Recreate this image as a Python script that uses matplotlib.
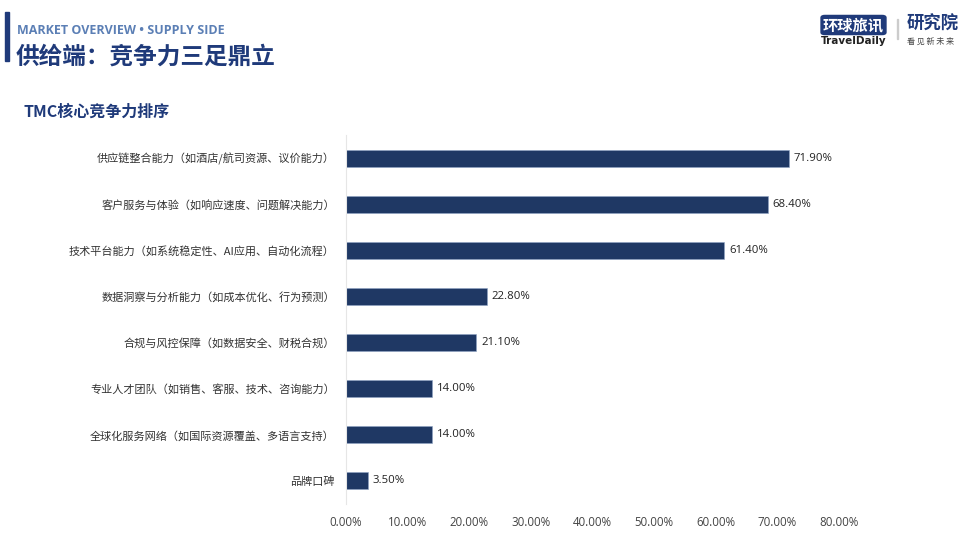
import matplotlib.pyplot as plt
from matplotlib.patches import FancyBboxPatch, Rectangle
from matplotlib.ticker import FuncFormatter

plt.rcParams["font.family"] = ["Noto Sans CJK SC", "DejaVu Sans"]

# data
categories = [
    "供应链整合能力（如酒店/航司资源、议价能力）",
    "客户服务与体验（如响应速度、问题解决能力）",
    "技术平台能力（如系统稳定性、AI应用、自动化流程）",
    "数据洞察与分析能力（如成本优化、行为预测）",
    "合规与风控保障（如数据安全、财税合规）",
    "专业人才团队（如销售、客服、技术、咨询能力）",
    "全球化服务网络（如国际资源覆盖、多语言支持）",
    "品牌口碑",
]
values = [71.9, 68.4, 61.4, 22.8, 21.1, 14.0, 14.0, 3.5]
xticks = [0, 10, 20, 30, 40, 50, 60, 70, 80]

navy = "#1f3864"
title_blue = "#1f3a7a"
sub_blue = "#5b7fb5"

fig = plt.figure(figsize=(9.6, 5.46), dpi=100)
fig.patch.set_facecolor("white")

# header
fig.add_artist(Rectangle((5 / 960, 1 - 61 / 546), 3.5 / 960, 49 / 546,
                         transform=fig.transFigure, color=title_blue))
fig.text(17 / 960, 1 - 31 / 546, "MARKET OVERVIEW • SUPPLY SIDE", fontsize=9,
         color=sub_blue, fontweight="bold", va="center", family=["Open Sans", "DejaVu Sans"])
fig.text(16 / 960, 1 - 57 / 546, "供给端：竞争力三足鼎立", fontsize=17,
         color=title_blue, fontweight="bold", va="center")
fig.text(24 / 960, 1 - 112 / 546, "TMC核心竞争力排序", fontsize=11.5,
         color=title_blue, fontweight="bold", va="center")

# logo
fig.add_artist(FancyBboxPatch((822 / 960, 1 - 34 / 546), 63 / 960, 18 / 546,
                              boxstyle="round,pad=0.001,rounding_size=0.004",
                              transform=fig.transFigure, color=title_blue))
fig.text(853.5 / 960, 1 - 25 / 546, "环球旅讯", fontsize=11, color="white",
         fontweight="bold", ha="center", va="center")
fig.text(853.5 / 960, 1 - 41 / 546, "TravelDaily", fontsize=7.5, color="#222222",
         fontweight="bold", ha="center", va="center", family=["DejaVu Sans"])
fig.add_artist(Rectangle((897 / 960, 1 - 39 / 546), 1 / 960, 20 / 546,
                         transform=fig.transFigure, color="#cccccc"))
fig.text(907 / 960, 1 - 24 / 546, "研究院", fontsize=12.5, color=title_blue,
         fontweight="bold", va="center")
fig.text(907 / 960, 1 - 41 / 546, "看 见 新 未 来", fontsize=5.8, color="#444444",
         va="center")

# chart
ax = fig.add_axes([346 / 960, 1 - 504 / 546, (839 - 346) / 960, (504 - 135) / 546])
ypos = list(range(len(categories)))
bars = ax.barh(ypos, values, height=0.37, color=navy, edgecolor="#8ea3c4",
               linewidth=0.4)
ax.set_ylim(len(categories) - 0.5, -0.5)
ax.set_xlim(0, 80)
ax.set_xticks(xticks)
ax.xaxis.set_major_formatter(FuncFormatter(lambda v, p: f"{v:.2f}%"))
ax.set_yticks(ypos)
ax.set_yticklabels(categories)
ax.tick_params(axis="y", length=0, labelsize=8, colors="#333333", pad=8)
ax.tick_params(axis="x", length=0, labelsize=8.3, colors="#444444", pad=9)
for lbl in ax.get_xticklabels():
    lbl.set_family(["Open Sans", "DejaVu Sans"])
for s in ["top", "right", "bottom"]:
    ax.spines[s].set_visible(False)
ax.spines["left"].set_color("#e6e6e6")
ax.spines["left"].set_linewidth(0.8)

for b, v in zip(bars, values):
    ax.text(v + 0.8, b.get_y() + b.get_height() / 2, f"{v:.2f}%", va="center",
            ha="left", fontsize=8.2, color="#222222", family=["Open Sans", "DejaVu Sans"])

fig.savefig("out.png", dpi=100)
